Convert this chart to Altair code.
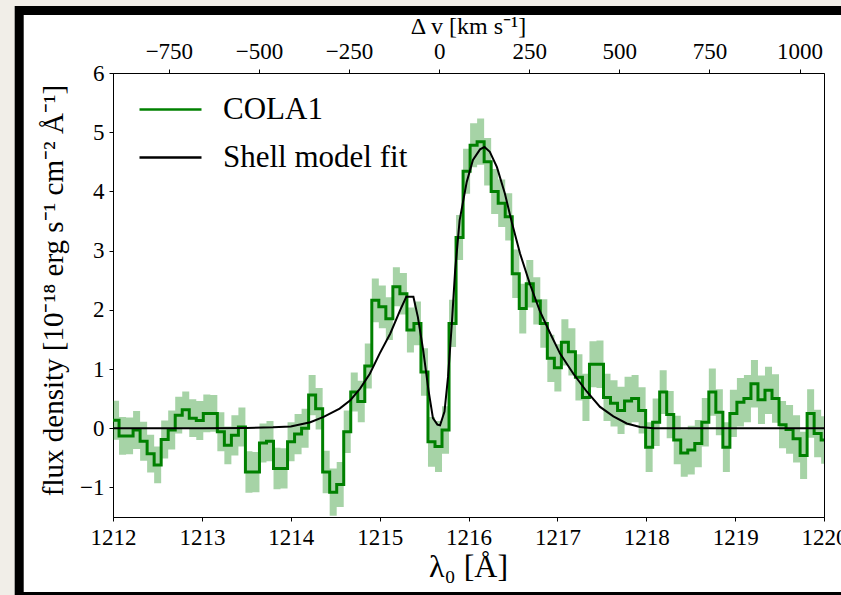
import altair as alt
import pandas as pd

# ---------------- data ----------------
lam_start = 1211.989   # left edge of first spectral bin [Å]
bin_width = 0.079      # width of a spectral bin [Å]

flux = [0.135, -0.13, -0.13, -0.03, -0.22, -0.43, -0.62, -0.19, -0.03, 0.22,
        0.31, 0.17, 0.13, 0.25, 0.25, -0.06, -0.29, -0.12, 0.02, -0.74,
        -0.74, -0.25, -0.22, -0.68, -0.68, -0.23, -0.10, 0.00, 0.56, 0.33,
        -0.74, -1.08, -0.95, -0.06, 0.61, 0.45, 1.05, 2.16, 2.05, 1.85,
        2.39, 2.27, 1.66, 1.77, 0.95, -0.23, -0.31, -0.03, 1.77, 3.22,
        4.34, 4.78, 4.84, 4.50, 4.00, 3.80, 3.57, 2.61, 2.02, 2.44,
        2.15, 1.77, 1.18, 1.02, 1.45, 1.29, 0.86, 0.52, 1.08, 1.08,
        0.52, 0.42, 0.30, 0.46, 0.50, 0.30, -0.32, 0.10, 0.61, 0.23,
        -0.20, -0.42, -0.37, -0.26, 0.10, 0.61, 0.27, -0.32, 0.25, 0.44,
        0.50, 0.75, 0.48, 0.64, 0.50, 0.06, -0.02, -0.18, -0.46, 0.25,
        -0.09, -0.20]

flux_err = [0.33, 0.32, 0.31, 0.32, 0.33, 0.32, 0.31, 0.32, 0.33, 0.31,
            0.31, 0.32, 0.33, 0.32, 0.31, 0.33, 0.32, 0.34, 0.33, 0.35,
            0.34, 0.33, 0.34, 0.35, 0.34, 0.33, 0.34, 0.33, 0.34, 0.35,
            0.36, 0.40, 0.38, 0.36, 0.33, 0.35, 0.38, 0.37, 0.36, 0.36,
            0.33, 0.35, 0.38, 0.37, 0.40, 0.42, 0.43, 0.40, 0.40, 0.38,
            0.38, 0.37, 0.39, 0.40, 0.38, 0.40, 0.40, 0.41, 0.42, 0.40,
            0.40, 0.41, 0.40, 0.40, 0.39, 0.40, 0.39, 0.40, 0.39, 0.40,
            0.40, 0.39, 0.40, 0.41, 0.40, 0.39, 0.42, 0.40, 0.37, 0.40,
            0.41, 0.40, 0.41, 0.40, 0.41, 0.40, 0.39, 0.42, 0.40, 0.41,
            0.40, 0.40, 0.41, 0.40, 0.41, 0.40, 0.41, 0.40, 0.40, 0.41,
            0.40, 0.40]

model_lam = [1212.0, 1213.0, 1213.5, 1213.8, 1214.0, 1214.22, 1214.37, 1214.55,
             1214.67, 1214.78, 1214.89, 1215.0, 1215.12, 1215.23, 1215.30, 1215.38,
             1215.43, 1215.49, 1215.55, 1215.60, 1215.65, 1215.68, 1215.73, 1215.77,
             1215.81, 1215.85, 1215.90, 1215.98, 1216.05, 1216.13, 1216.18, 1216.24,
             1216.32, 1216.41, 1216.49, 1216.58, 1216.69, 1216.80, 1216.92, 1217.03,
             1217.18, 1217.33, 1217.48, 1217.63, 1217.78, 1217.93, 1218.08, 1219.0,
             1220.0]
model_flux = [0.0, 0.0, 0.005, 0.015, 0.03, 0.10, 0.19, 0.33,
              0.47, 0.67, 0.92, 1.26, 1.60, 1.99, 2.22, 2.22,
              1.88, 1.32, 0.64, 0.17, 0.06, 0.05, 0.28, 0.87,
              1.71, 2.67, 3.51, 4.16, 4.53, 4.71, 4.75, 4.67,
              4.41, 3.96, 3.46, 2.95, 2.44, 1.99, 1.60, 1.26,
              0.92, 0.62, 0.36, 0.20, 0.08, 0.02, 0.0, 0.0,
              0.0]

series_names = ["COLA1", "Shell model fit"]
series_colors = ["#008000", "#000000"]

x_tick_values = [1212, 1212.5, 1213, 1213.5, 1214, 1214.5, 1215, 1215.5, 1216,
                 1216.5, 1217, 1217.5, 1218, 1218.5, 1219, 1219.5, 1220]
y_tick_values = [-1, -0.5, 0, 0.5, 1, 1.5, 2, 2.5, 3, 3.5, 4, 4.5, 5, 5.5, 6]
v_tick_values = [-750, -500, -250, 0, 250, 500, 750, 1000]

X_DOMAIN = [1212, 1220]
Y_DOMAIN = [-1.5, 6]
LYA = 1215.67
C_KMS = 299792.458
V_DOMAIN = [(X_DOMAIN[0] - LYA) / LYA * C_KMS, (X_DOMAIN[1] - LYA) / LYA * C_KMS]

FONT = "Liberation Serif"

# ---------------- tables ----------------
edges = [lam_start + bin_width * i for i in range(len(flux) + 1)]
flux_ext = flux + [flux[-1]]
err_ext = flux_err + [flux_err[-1]]
spec = pd.DataFrame({
    "lam": edges,
    "flux": flux_ext,
    "lo": [f - e for f, e in zip(flux_ext, err_ext)],
    "hi": [f + e for f, e in zip(flux_ext, err_ext)],
    "series": series_names[0],
})
model = pd.DataFrame({"lam": model_lam, "flux": model_flux, "series": series_names[1]})
vel = pd.DataFrame({"v": V_DOMAIN})
one = pd.DataFrame({"k": [0]})

PW, PH = 711, 444
PAD = {"left": 113, "top": 73, "right": 17, "bottom": 78}

xscale = alt.Scale(domain=X_DOMAIN, nice=False, zero=False)
yscale = alt.Scale(domain=Y_DOMAIN, nice=False, zero=False)

minor_test = "datum.value % 1 != 0"
x_axis = alt.Axis(
    values=x_tick_values, format="d",
    labelExpr="datum.value % 1 == 0 ? datum.label : ''",
    tickSize={"condition": {"test": minor_test, "value": 2}, "value": 4},
    labelFontSize=23, labelPadding=5, labelOverlap=False, labelFlush=False,
    title="λ₀ [Å]", titleFontSize=32, titleFontWeight="normal",
    titleX=355, titleY=49, titleBaseline="middle", titleAlign="center",
    grid=False,
)
y_axis = alt.Axis(
    values=y_tick_values, format="d",
    labelExpr="datum.value % 1 == 0 ? datum.label : ''",
    tickSize={"condition": {"test": minor_test, "value": 2}, "value": 4},
    labelFontSize=23, labelPadding=5, labelOverlap=False, labelFlush=False,
    title="flux density [10⁻¹⁸ erg s⁻¹ cm⁻² Å⁻¹]", titleFontSize=29,
    titleFontWeight="normal", titleAngle=270, titleX=-60, titleY=217,
    titleBaseline="middle", titleAlign="center",
    grid=False,
)
v_axis = alt.Axis(
    orient="top", values=v_tick_values, format="d", tickSize=4,
    labelFontSize=23, labelPadding=6, labelOverlap=False, labelFlush=False,
    title="Δ v [km s⁻¹]", titleFontSize=24, titleFontWeight="normal",
    titleX=355, titleY=-47, titleBaseline="middle", titleAlign="center",
    grid=False,
)

color = alt.Color(
    "series:N",
    scale=alt.Scale(domain=series_names, range=series_colors),
    legend=alt.Legend(
        orient="none", legendX=25, legendY=4, title=None,
        symbolType="stroke", symbolSize=3844, symbolStrokeWidth=2.5,
        labelFontSize=31, labelFont=FONT, labelOffset=20, labelLimit=500,
        rowPadding=-23, padding=0,
    ),
)

# frame decorations (page background strip + black border)
beige = alt.Chart(one).mark_rect(filled=False, color="#f1eee8", strokeWidth=30).encode(
    x=alt.value(-113), x2=alt.value(787), y=alt.value(-82), y2=alt.value(627)
)
border = alt.Chart(one).mark_rect(filled=False, color="#000000", strokeWidth=9).encode(
    x=alt.value(-93.8), x2=alt.value(733), y=alt.value(-62.5), y2=alt.value(523.5)
)

band = alt.Chart(spec).mark_area(
    interpolate="step-after", color="#008000", opacity=0.35, clip=True
).encode(
    x=alt.X("lam:Q", scale=xscale, axis=x_axis),
    y=alt.Y("lo:Q", scale=yscale, axis=y_axis),
    y2="hi:Q",
)
line = alt.Chart(spec).mark_line(
    interpolate="step-after", strokeWidth=3, clip=True
).encode(
    x=alt.X("lam:Q", scale=xscale),
    y=alt.Y("flux:Q", scale=yscale),
    color=color,
)
fit = alt.Chart(model).mark_line(strokeWidth=2, clip=True).encode(
    x=alt.X("lam:Q", scale=xscale),
    y=alt.Y("flux:Q", scale=yscale),
    color=color,
)
data_layer = alt.layer(band, line, fit)

top = alt.Chart(vel).mark_point(opacity=0).encode(
    x=alt.X("v:Q", scale=alt.Scale(domain=V_DOMAIN, nice=False, zero=False), axis=v_axis),
    y=alt.value(0),
)

chart = alt.layer(beige, border, data_layer, top).resolve_scale(
    x="independent"
).properties(
    width=PW, height=PH,
    autosize=alt.AutoSizeParams(type="none"),
    padding=PAD,
    background="white",
).configure_view(
    stroke="#000000", strokeWidth=1
).configure_axis(
    labelFont=FONT, titleFont=FONT, labelColor="#000000", titleColor="#000000",
    domainColor="#000000", tickColor="#000000", domainWidth=1, tickWidth=1,
).configure_legend(
    labelColor="#000000",
)

chart.save("out.html", embed_options={"renderer": "svg", "actions": False})
